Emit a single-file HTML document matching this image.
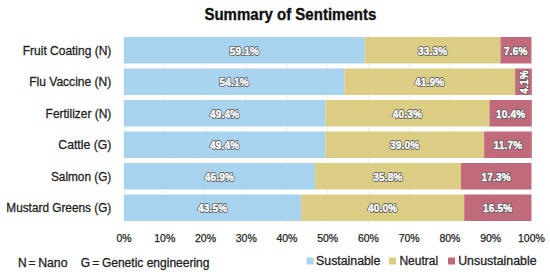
<!DOCTYPE html>
<html><head><meta charset="utf-8"><style>
html,body{margin:0;padding:0;background:#fff;}
body{width:550px;height:275px;overflow:hidden;}
svg{display:block;font-family:"Liberation Sans",sans-serif;}
.title{font-weight:bold;font-size:16.5px;fill:#111;stroke:#111;stroke-width:0.35px;}
.cat{font-size:12.5px;fill:#1f1f1f;stroke:#1f1f1f;stroke-width:0.3px;}
.lab{font-size:10px;letter-spacing:0.2px;font-weight:bold;fill:#474747;stroke:#474747;stroke-width:1.8px;stroke-linejoin:round;}
.labf{font-size:10px;letter-spacing:0.2px;font-weight:bold;fill:#fff;stroke:#fff;stroke-width:0.45px;}
.ax{font-size:10.5px;fill:#1f1f1f;stroke:#1f1f1f;stroke-width:0.25px;}
.leg{font-size:12px;fill:#1f1f1f;stroke:#1f1f1f;stroke-width:0.3px;}
</style></head><body>
<svg width="550" height="275" viewBox="0 0 550 275">
<rect width="550" height="275" fill="#fff"/>
<text class="title" x="204.40" y="19.80" textLength="171.90" lengthAdjust="spacingAndGlyphs">Summary of Sentiments</text>
<rect x="123.50" y="34" width="1" height="190" fill="#eeeeee"/><rect x="164.24" y="34" width="1" height="190" fill="#eeeeee"/><rect x="204.98" y="34" width="1" height="190" fill="#eeeeee"/><rect x="245.72" y="34" width="1" height="190" fill="#eeeeee"/><rect x="286.46" y="34" width="1" height="190" fill="#eeeeee"/><rect x="327.20" y="34" width="1" height="190" fill="#eeeeee"/><rect x="367.94" y="34" width="1" height="190" fill="#eeeeee"/><rect x="408.68" y="34" width="1" height="190" fill="#eeeeee"/><rect x="449.42" y="34" width="1" height="190" fill="#eeeeee"/><rect x="490.16" y="34" width="1" height="190" fill="#eeeeee"/><rect x="530.90" y="34" width="1" height="190" fill="#eeeeee"/><text class="cat" x="22.80" y="54.80" textLength="88.50" lengthAdjust="spacingAndGlyphs">Fruit Coating (N)</text><rect x="124.00" y="37.00" width="240.77" height="26.5" fill="#a7d3ef"/><rect x="364.77" y="37.00" width="135.66" height="26.5" fill="#dbcd84"/><rect x="500.44" y="37.00" width="30.96" height="26.5" fill="#c16a7b"/><text class="lab" x="244.39" y="54.85" text-anchor="middle">59.1%</text><text class="labf" x="244.39" y="54.85" text-anchor="middle">59.1%</text><text class="lab" x="432.61" y="54.85" text-anchor="middle">33.3%</text><text class="labf" x="432.61" y="54.85" text-anchor="middle">33.3%</text><text class="lab" x="515.92" y="54.85" text-anchor="middle">7.6%</text><text class="labf" x="515.92" y="54.85" text-anchor="middle">7.6%</text><text class="cat" x="29.20" y="86.30" textLength="82.10" lengthAdjust="spacingAndGlyphs">Flu Vaccine (N)</text><rect x="124.00" y="68.50" width="220.40" height="26.5" fill="#a7d3ef"/><rect x="344.40" y="68.50" width="170.70" height="26.5" fill="#dbcd84"/><rect x="515.10" y="68.50" width="16.70" height="26.5" fill="#c16a7b"/><text class="lab" x="234.20" y="86.35" text-anchor="middle">54.1%</text><text class="labf" x="234.20" y="86.35" text-anchor="middle">54.1%</text><text class="lab" x="429.75" y="86.35" text-anchor="middle">41.9%</text><text class="labf" x="429.75" y="86.35" text-anchor="middle">41.9%</text><text class="lab" transform="translate(527.76,81.95) rotate(-90)" x="0" y="0" text-anchor="middle">4.1%</text><text class="labf" transform="translate(527.76,81.95) rotate(-90)" x="0" y="0" text-anchor="middle">4.1%</text><text class="cat" x="45.60" y="117.80" textLength="65.70" lengthAdjust="spacingAndGlyphs">Fertilizer (N)</text><rect x="124.00" y="100.00" width="201.26" height="26.5" fill="#a7d3ef"/><rect x="325.26" y="100.00" width="164.18" height="26.5" fill="#dbcd84"/><rect x="489.44" y="100.00" width="42.37" height="26.5" fill="#c16a7b"/><text class="lab" x="224.63" y="117.85" text-anchor="middle">49.4%</text><text class="labf" x="224.63" y="117.85" text-anchor="middle">49.4%</text><text class="lab" x="407.35" y="117.85" text-anchor="middle">40.3%</text><text class="labf" x="407.35" y="117.85" text-anchor="middle">40.3%</text><text class="lab" x="510.62" y="117.85" text-anchor="middle">10.4%</text><text class="labf" x="510.62" y="117.85" text-anchor="middle">10.4%</text><text class="cat" x="58.30" y="149.30" textLength="53.00" lengthAdjust="spacingAndGlyphs">Cattle (G)</text><rect x="124.00" y="131.50" width="201.26" height="26.5" fill="#a7d3ef"/><rect x="325.26" y="131.50" width="158.89" height="26.5" fill="#dbcd84"/><rect x="484.14" y="131.50" width="47.67" height="26.5" fill="#c16a7b"/><text class="lab" x="224.63" y="149.35" text-anchor="middle">49.4%</text><text class="labf" x="224.63" y="149.35" text-anchor="middle">49.4%</text><text class="lab" x="404.70" y="149.35" text-anchor="middle">39.0%</text><text class="labf" x="404.70" y="149.35" text-anchor="middle">39.0%</text><text class="lab" x="507.97" y="149.35" text-anchor="middle">11.7%</text><text class="labf" x="507.97" y="149.35" text-anchor="middle">11.7%</text><text class="cat" x="51.00" y="180.80" textLength="60.30" lengthAdjust="spacingAndGlyphs">Salmon (G)</text><rect x="124.00" y="163.00" width="191.07" height="26.5" fill="#a7d3ef"/><rect x="315.07" y="163.00" width="145.85" height="26.5" fill="#dbcd84"/><rect x="460.92" y="163.00" width="70.48" height="26.5" fill="#c16a7b"/><text class="lab" x="219.54" y="180.85" text-anchor="middle">46.9%</text><text class="labf" x="219.54" y="180.85" text-anchor="middle">46.9%</text><text class="lab" x="388.00" y="180.85" text-anchor="middle">35.8%</text><text class="labf" x="388.00" y="180.85" text-anchor="middle">35.8%</text><text class="lab" x="496.16" y="180.85" text-anchor="middle">17.3%</text><text class="labf" x="496.16" y="180.85" text-anchor="middle">17.3%</text><text class="cat" x="6.30" y="212.30" textLength="105.00" lengthAdjust="spacingAndGlyphs">Mustard Greens (G)</text><rect x="124.00" y="194.50" width="177.22" height="26.5" fill="#a7d3ef"/><rect x="301.22" y="194.50" width="162.96" height="26.5" fill="#dbcd84"/><rect x="464.18" y="194.50" width="67.22" height="26.5" fill="#c16a7b"/><text class="lab" x="212.61" y="212.35" text-anchor="middle">43.5%</text><text class="labf" x="212.61" y="212.35" text-anchor="middle">43.5%</text><text class="lab" x="382.70" y="212.35" text-anchor="middle">40.0%</text><text class="labf" x="382.70" y="212.35" text-anchor="middle">40.0%</text><text class="lab" x="497.79" y="212.35" text-anchor="middle">16.5%</text><text class="labf" x="497.79" y="212.35" text-anchor="middle">16.5%</text><text class="ax" x="124.00" y="241.8" text-anchor="middle">0%</text><text class="ax" x="164.74" y="241.8" text-anchor="middle">10%</text><text class="ax" x="205.48" y="241.8" text-anchor="middle">20%</text><text class="ax" x="246.22" y="241.8" text-anchor="middle">30%</text><text class="ax" x="286.96" y="241.8" text-anchor="middle">40%</text><text class="ax" x="327.70" y="241.8" text-anchor="middle">50%</text><text class="ax" x="368.44" y="241.8" text-anchor="middle">60%</text><text class="ax" x="409.18" y="241.8" text-anchor="middle">70%</text><text class="ax" x="449.92" y="241.8" text-anchor="middle">80%</text><text class="ax" x="490.66" y="241.8" text-anchor="middle">90%</text><text class="ax" x="531.40" y="241.8" text-anchor="middle">100%</text>
<text class="leg" x="22.45" y="267.4" text-anchor="middle">N</text><text class="leg" x="32.1" y="267.4" text-anchor="middle">=</text><text class="leg" x="38.20" y="267.40" textLength="29.30" lengthAdjust="spacingAndGlyphs">Nano</text><text class="leg" x="85.45" y="267.4" text-anchor="middle">G</text><text class="leg" x="95.65" y="267.4" text-anchor="middle">=</text><text class="leg" x="101.90" y="267.40" textLength="107.60" lengthAdjust="spacingAndGlyphs">Genetic engineering</text><rect x="306.5" y="257.5" width="7" height="7" fill="#a7d3ef"/><text class="leg" x="316.10" y="264.70" textLength="64.30" lengthAdjust="spacingAndGlyphs">Sustainable</text><rect x="389" y="257.5" width="7" height="7" fill="#dbcd84"/><text class="leg" x="399.40" y="264.70" textLength="38.70" lengthAdjust="spacingAndGlyphs">Neutral</text><rect x="448" y="257.5" width="7" height="7" fill="#c16a7b"/><text class="leg" x="458.20" y="264.70" textLength="78.40" lengthAdjust="spacingAndGlyphs">Unsustainable</text>
</svg>
</body></html>
